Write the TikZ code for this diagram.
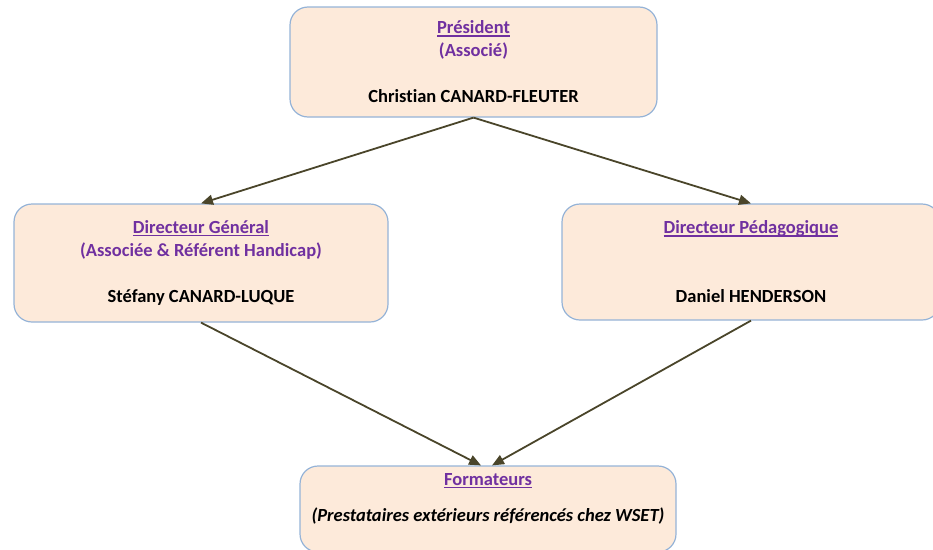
\documentclass[tikz,border=0pt]{standalone}
\usepackage{fontspec}
\setmainfont{Carlito}[Ligatures=NoCommon]
\usetikzlibrary{arrows.meta}
\definecolor{titrecol}{HTML}{7030A0}
\definecolor{fondcase}{HTML}{FDEADA}
\definecolor{bordcase}{HTML}{95B3D7}
\definecolor{fleche}{HTML}{4A452A}
\newsavebox\soulbox
\newcommand\souligne[1]{\sbox\soulbox{#1}\rlap{\rule[-2.6pt]{\wd\soulbox}{1.3pt}}\usebox\soulbox}
\begin{document}
\begin{tikzpicture}[x=1pt,y=-1pt,
		case/.style={draw=bordcase, line width=1.2pt, fill=fondcase, rounded corners=18pt, align=center, font=\bfseries\fontsize{18.5}{23}\selectfont},
		fl/.style={draw=fleche, line width=1.8pt, -{Triangle[length=12pt,width=10pt]}}]
			\useasboundingbox (0,0) rectangle (933,549);
			\node[case, minimum width=367pt, minimum height=110pt] (pres) at (473.5,62) {\textcolor{titrecol}{\souligne{Président}}\\\textcolor{titrecol}{(Associé)}\\~\\Christian CANARD-FLEUTER};
			\node[case, minimum width=374pt, minimum height=118pt] (dirgen) at (201,263) {\textcolor{titrecol}{\souligne{Directeur Général}}\\\textcolor{titrecol}{(Associée \& Référent Handicap)}\\~\\Stéfany CANARD-LUQUE};
			\node[case, minimum width=378pt, minimum height=116pt] (dirpeda) at (751,262) {\textcolor{titrecol}{\souligne{Directeur Pédagogique}}\\~\\~\\Daniel HENDERSON};
			\node[case, minimum width=376pt, minimum height=86pt] (form) at (488,509) {\textcolor{titrecol}{\souligne{Formateurs}}\\[13pt]\textit{(Prestataires extérieurs référencés chez WSET)}\\~};
			\draw[fl] (pres.south) -- (dirgen.north);
			\draw[fl] (pres.south) -- (dirpeda.north);
			\draw[fl] (dirgen.south) -- ([xshift=-7pt]form.north);
			\draw[fl] (dirpeda.south) -- ([xshift=4pt]form.north);
		\end{tikzpicture}
\end{document}
